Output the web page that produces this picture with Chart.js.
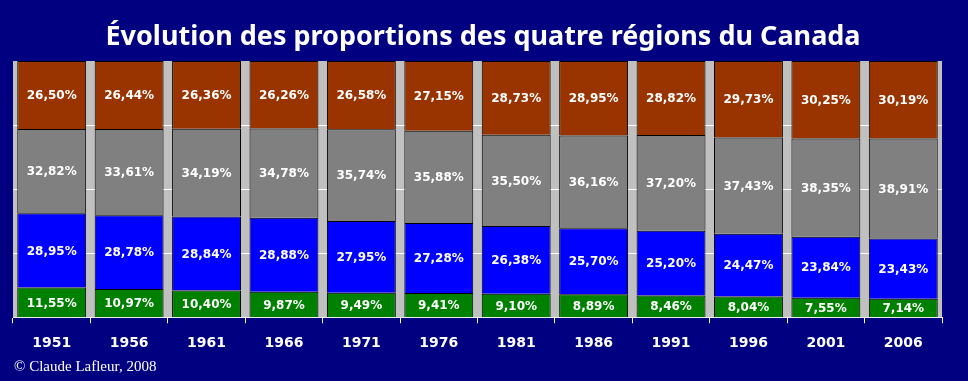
<!DOCTYPE html>
<html>
<head>
<meta charset="utf-8">
<script src="https://cdn.jsdelivr.net/npm/chart.js@4.4.0/dist/chart.umd.min.js"></script>
<style>
  html, body { margin: 0; padding: 0; background: #000080; }
  #wrap { width: 968px; height: 381px; position: relative; }
</style>
</head>
<body>
<div id="wrap"><canvas id="chart"></canvas></div>
<script>
// annees et proportions (%) par region
var years = ['1951','1956','1961','1966','1971','1976','1981','1986','1991','1996','2001','2006'];
var green = [11.55,10.97,10.40,9.87,9.49,9.41,9.10,8.89,8.46,8.04,7.55,7.14];
var blue  = [28.95,28.78,28.84,28.88,27.95,27.28,26.38,25.70,25.20,24.47,23.84,23.43];
var grey  = [32.82,33.61,34.19,34.78,35.74,35.88,35.50,36.16,37.20,37.43,38.35,38.91];
var brown = [26.50,26.44,26.36,26.26,26.58,27.15,28.73,28.95,28.82,29.73,30.25,30.19];
var series = [green, blue, grey, brown];

// barres a 100% (comme Excel), les etiquettes gardent la valeur lue
function pct(arr){
	var out = [];
	for(var j = 0; j < arr.length; j++){
		var tot = green[j] + blue[j] + grey[j] + brown[j];
		out.push(arr[j] / tot * 100);
	}
	return out;
}

function fmt(v){
	return v.toFixed(2).replace('.', ',') + '%';
}

var plotBg = {
	id: 'plotBg',
	beforeDatasetsDraw: function(chart){
		var a = chart.chartArea;
		var ctx = chart.ctx;
		ctx.save();
		ctx.fillStyle = '#c0c0c0';
		ctx.fillRect(a.left, a.top, a.right - a.left, a.bottom - a.top);
		// lignes blanches
		var y = chart.scales.y;
		ctx.strokeStyle = '#ffffff';
		ctx.lineWidth = 1;
		[25, 50, 75].forEach(function(v){
			var py = Math.round(y.getPixelForValue(v)) + 0.5;
			ctx.beginPath();
			ctx.moveTo(a.left, py);
			ctx.lineTo(a.right, py);
			ctx.stroke();
		});
		ctx.restore();
	}
};

var labels = {
	id: 'labels',
	afterDatasetsDraw: function(chart){
		var ctx = chart.ctx;
		ctx.save();
		ctx.fillStyle = '#ffffff';
		ctx.font = 'bold 12px "DejaVu Sans"';
		ctx.textAlign = 'center';
		ctx.textBaseline = 'middle';
		chart.data.datasets.forEach(function(ds, i){
			var meta = chart.getDatasetMeta(i);
			meta.data.forEach(function(bar, j){
				var p = bar.getProps(['x','y','base'], true);
				ctx.fillText(fmt(series[i][j]), p.x, (p.y + p.base) / 2 + 1);
			});
		});
		ctx.restore();
	},
	afterDraw: function(chart){
		var ctx = chart.ctx;
		ctx.save();
		ctx.fillStyle = '#ffffff';
		ctx.textBaseline = 'alphabetic';
		ctx.textAlign = 'center';
		ctx.font = 'bold 27px "Noto Sans"';
		ctx.fillText('\u00C9volution des proportions des quatre r\u00E9gions du Canada', 483, 45);
		ctx.textAlign = 'left';
		ctx.textBaseline = 'middle';
		ctx.font = '15px "Liberation Serif"';
		ctx.fillText('\u00A9 Claude Lafleur, 2008', 14, 367);
		ctx.restore();
	}
};

var ctx = document.getElementById('chart').getContext('2d');
var myChart = new Chart(ctx, {
	type: 'bar',
	data: {
		labels: years,
		datasets: [
			{ label: 'green', data: pct(green), backgroundColor: '#008000' },
			{ label: 'blue', data: pct(blue), backgroundColor: '#0000ff' },
			{ label: 'grey', data: pct(grey), backgroundColor: '#808080' },
			{ label: 'brown', data: pct(brown), backgroundColor: '#993300' }
		]
	},
	options: {
		responsive: true,
		maintainAspectRatio: false,
		animation: false,
		layout: { padding: { left: 13, right: 26, top: 61, bottom: 17 } },
		datasets: {
			bar: {
				borderColor: '#000000',
				borderWidth: 1,
				barPercentage: 0.89,
				categoryPercentage: 1
			}
		},
		plugins: {
			legend: { display: false },
			tooltip: { enabled: false },
			title: { display: false }
		},
		scales: {
			x: {
				stacked: true,
				grid: { drawOnChartArea: false, drawTicks: true, tickLength: 6, color: '#ffffff' },
				border: { color: '#ffffff', width: 1 },
				ticks: { color: '#ffffff', font: { family: '"DejaVu Sans"', size: 14, weight: 'bold' }, padding: 12 }
			},
			y: {
				stacked: true,
				display: false,
				min: 0,
				max: 100
			}
		}
	},
	plugins: [plotBg, labels]
});
</script>
</body>
</html>
